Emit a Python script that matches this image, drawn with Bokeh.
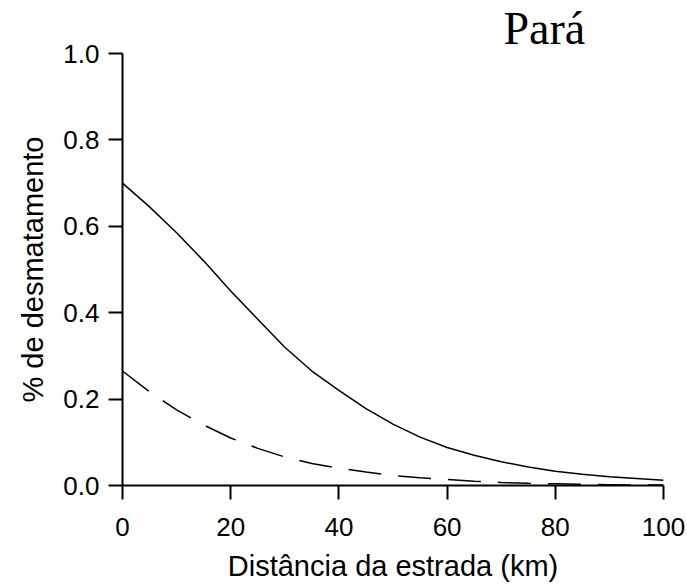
from bokeh.plotting import figure
from bokeh.models import Range1d, Title, ColumnDataSource
from bokeh.embed import file_html
from bokeh.resources import INLINE

# Data
distance_km = [0, 5, 10, 15, 20, 25, 30, 35, 40, 45, 50,
               55, 60, 65, 70, 75, 80, 85, 90, 95, 100]
solid_series = [0.700, 0.645, 0.585, 0.520, 0.450, 0.385, 0.320, 0.265, 0.220, 0.178, 0.142,
                0.112, 0.088, 0.070, 0.055, 0.043, 0.033, 0.026, 0.020, 0.016, 0.012]
dashed_series = [0.265, 0.217, 0.175, 0.140, 0.110, 0.086, 0.066, 0.051, 0.040, 0.031, 0.023,
                 0.018, 0.014, 0.010, 0.007, 0.005, 0.004, 0.003, 0.002, 0.001, 0.001]
x_ticks = [0, 20, 40, 60, 80, 100]
y_ticks = [0.0, 0.2, 0.4, 0.6, 0.8, 1.0]
title_text = "Pará"
x_label = "Distância da estrada (km)"
y_label = "% de desmatamento"

src = ColumnDataSource(dict(x=distance_km, s=solid_series, d=dashed_series))

p = figure(width=687, height=584, output_backend="svg", toolbar_location=None,
           x_range=Range1d(0, 100), y_range=Range1d(0, 1),
           min_border_left=122, min_border_right=24, min_border_top=51, min_border_bottom=97)
p.outline_line_color = None
p.xgrid.visible = False
p.ygrid.visible = False
p.background_fill_color = "white"
p.border_fill_color = "white"

p.line("x", "s", source=src, line_color="black", line_width=1.5)
p.line("x", "d", source=src, line_color="black", line_width=1.5, line_dash="33 17")

for ax in (p.xaxis[0], p.yaxis[0]):
    ax.axis_line_width = 2
    ax.axis_line_color = "black"
    ax.major_tick_line_width = 2
    ax.major_tick_line_color = "black"
    ax.major_tick_in = 0
    ax.major_tick_out = 14
    ax.minor_tick_line_color = None
    ax.major_label_text_font = "Liberation Sans"
    ax.major_label_text_font_size = "26px"
    ax.major_label_text_color = "black"
    ax.axis_label_text_font = "Liberation Sans"
    ax.axis_label_text_font_style = "normal"
    ax.axis_label_text_color = "black"

p.xaxis.axis_label_text_font_size = "29px"
p.yaxis.axis_label_text_font_size = "29px"
p.xaxis.ticker = x_ticks
p.yaxis.ticker = y_ticks
p.xaxis.major_label_overrides = {t: str(t) for t in x_ticks}
p.yaxis.major_label_overrides = {t: f"{t:.1f}" for t in y_ticks}
p.xaxis.axis_label = x_label
p.yaxis.axis_label = y_label
p.xaxis.major_label_standoff = 18
p.yaxis.major_label_standoff = 9
p.xaxis.axis_label_standoff = 11
p.yaxis.axis_label_standoff = 11

p.add_layout(Title(text=title_text, text_font="Liberation Serif", text_font_size="46px",
                   text_font_style="normal", text_color="black", align="left",
                   offset=381, standoff=0), "above")

open("out.html", "w").write(file_html(p, INLINE))
